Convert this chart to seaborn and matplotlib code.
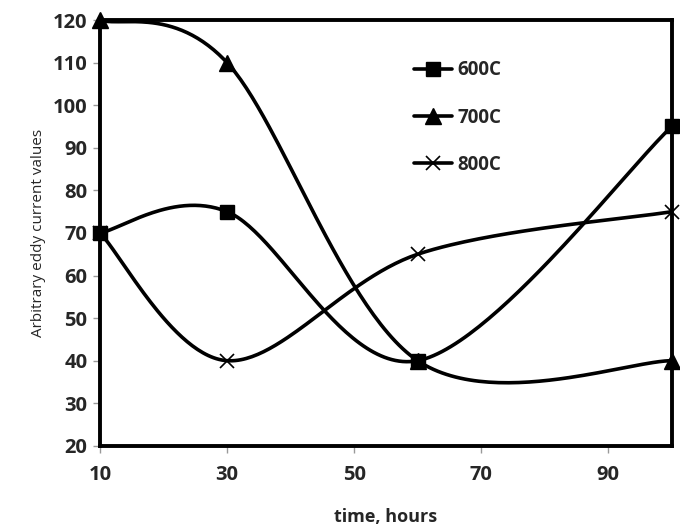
import numpy as np
import pandas as pd
import seaborn as sns
import matplotlib.pyplot as plt

# Data
hours = [10, 30, 60, 100]
vals_600 = [70, 75, 40, 95]
vals_700 = [120, 110, 40, 40]
vals_800 = [70, 40, 65, 75]

series = {'600C': vals_600, '700C': vals_700, '800C': vals_800}
markers = {'600C': 's', '700C': '^', '800C': 'x'}
msizes = {'600C': 10, '700C': 11, '800C': 10}


def smooth(xs, ys, n=60):
    # Catmull-Rom style bezier smoothing, like a "smoothed line" in a spreadsheet chart
    px = np.array(xs, float)
    py = np.array(ys, float)
    ox, oy = [], []
    for i in range(len(px) - 1):
        i0, i3 = max(i - 1, 0), min(i + 2, len(px) - 1)
        c1 = (px[i] + (px[i + 1] - px[i0]) / 6, py[i] + (py[i + 1] - py[i0]) / 6)
        c2 = (px[i + 1] - (px[i3] - px[i]) / 6, py[i + 1] - (py[i3] - py[i]) / 6)
        t = np.linspace(0, 1, n)
        b = [(1 - t) ** 3, 3 * (1 - t) ** 2 * t, 3 * (1 - t) * t ** 2, t ** 3]
        ox.extend(b[0] * px[i] + b[1] * c1[0] + b[2] * c2[0] + b[3] * px[i + 1])
        oy.extend(b[0] * py[i] + b[1] * c1[1] + b[2] * c2[1] + b[3] * py[i + 1])
    return ox, oy


sns.set_style('white')
plt.rcParams['font.family'] = ['Open Sans', 'DejaVu Sans']

fig = plt.figure(figsize=(6.8, 5.27), dpi=100)
ax = fig.add_axes([0.147, 0.154, 0.841, 0.808])

lw = 2.6
for name, vals in series.items():
    sx, sy = smooth(hours, vals)
    curve = pd.DataFrame({'x': sx, 'y': sy})
    sns.lineplot(data=curve, x='x', y='y', ax=ax, color='black', lw=lw,
                 sort=False, estimator=None)
    pts = pd.DataFrame({'x': hours, 'y': vals})
    ax.plot(pts['x'], pts['y'], ls='none', marker=markers[name], ms=msizes[name],
            color='black', mew=1.2 if name == '800C' else 1, clip_on=False)
    # legend proxy
    ax.plot([], [], color='black', lw=lw, marker=markers[name], ms=msizes[name],
            label=name, mew=1.2 if name == '800C' else 1)

ax.set_xlim(10, 100)
ax.set_ylim(20, 120)
ax.set_xticks([10, 30, 50, 70, 90])
ax.set_yticks(range(20, 121, 10))
for s in ax.spines.values():
    s.set_color('black')
    s.set_linewidth(2.8)
ax.tick_params(axis='both', which='major', length=5, width=1, color='#999999',
               bottom=True, left=True, labelsize=14.5, pad=4)
for lab in ax.get_xticklabels() + ax.get_yticklabels():
    lab.set_fontweight('bold')
ax.tick_params(axis='x', pad=9)

ax.set_xlabel('time, hours', fontsize=13, fontweight='bold', labelpad=16)
ax.set_ylabel('Arbitrary eddy current values', fontsize=11, labelpad=5)

ax.legend(loc='upper left', bbox_to_anchor=(0.52, 0.945), frameon=False,
          prop={'weight': 'bold', 'size': 13.5}, handlelength=2.0,
          handletextpad=0.3, labelspacing=1.45)

plt.savefig('out.png', dpi=100)
